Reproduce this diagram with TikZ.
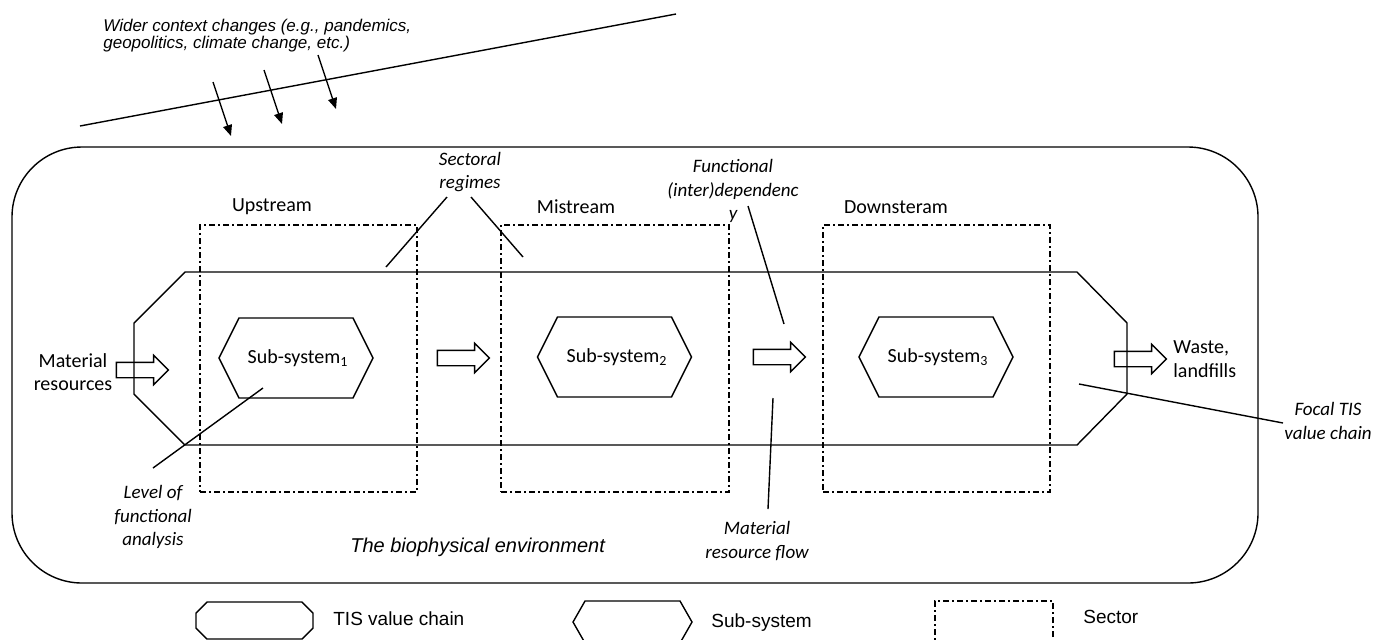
\documentclass[tikz,border=0pt]{standalone}
\usepackage{fontspec}
\setmainfont{Carlito}
\newfontfamily\arialfont{Liberation Sans}
\usetikzlibrary{positioning,shapes.arrows,arrows.meta}

\begin{document}
\begin{tikzpicture}[x=0.5pt,y=-0.5pt,>={Stealth[length=5.5pt,width=4.5pt,inset=0pt]},line width=0.7pt,
  sector/.style={draw, dash pattern=on 3pt off 1.6pt on 0.8pt off 1.6pt, line width=0.6pt, inner sep=0pt},
  flowarrow/.style={single arrow, draw, single arrow head extend=3.5pt, inner sep=3.5pt, minimum height=26pt},
  lbl/.style={font=\fontsize{10}{11.8}\selectfont, align=center},
  remark/.style={font=\fontsize{9.5}{11.8}\selectfont\itshape, align=center},
  legendtext/.style={anchor=west, font=\arialfont\fontsize{9.5}{11}\selectfont}]
\useasboundingbox (0,0) rectangle (1374,639);
\clip (0,0) rectangle (1374,639);

% Wider context
\node (ctx) [anchor=west, align=left, font=\arialfont\itshape\fontsize{8.5}{8.5}\selectfont] at (96,36)
    {Wider context changes (e.g., pandemics,\\geopolitics, climate change, etc.)};
\coordinate (ctxL) at (80,126);
\coordinate (ctxR) at (676,14);
\draw (ctxL) -- (ctxR);
\foreach \x/\y [count=\i] in {213/82, 264/70, 318/55}
  {\coordinate (ctx\i) at (\x,\y); \draw [->] (ctx\i) -- ++(18,54);}

% The biophysical environment
\node (env) [draw, rounded corners=35pt, minimum width=623pt, minimum height=218pt, inner sep=0pt] at (635,365) {};
\node (bio) [anchor=west, font=\arialfont\itshape\fontsize{10}{12}\selectfont] at (343,547) {The biophysical environment};

% Sectors
\node (upbox) [sector, minimum width=108.5pt, minimum height=133.5pt] at (308.5,358.5) {};
\node (midbox) [sector, minimum width=114pt, minimum height=133.5pt] at (615,358.5) {};
\node (downbox) [sector, minimum width=113.5pt, minimum height=133.5pt] at (936.5,358.5) {};
\node (up) [lbl] at (272,207) {Upstream};
\node (mid) [lbl] at (576,207) {Mistream};
\node (down) [lbl] at (896,207) {Downsteram};

% Focal TIS value chain
\draw (185,272) -- (1077,272) -- (1127,323) -- (1127,394) -- (1077,445) -- (185,445) -- (134,394) -- (134,323) -- cycle;

% Sub-systems
\node (ss1) [lbl] at (298,358) {Sub-system\textsubscript{1}};
\draw [shift={(296,358)}] (-77,0) -- (-57,-40) -- (57,-40) -- (77,0) -- (57,40) -- (-57,40) -- cycle;
\node (ss2) [lbl] at (617,357) {Sub-system\textsubscript{2}};
\draw [shift={(614.5,357)}] (-77,0) -- (-57,-40) -- (57,-40) -- (77,0) -- (57,40) -- (-57,40) -- cycle;
\node (ss3) [lbl] at (938,357) {Sub-system\textsubscript{3}};
\draw [shift={(936,357)}] (-77,0) -- (-57,-40) -- (57,-40) -- (77,0) -- (57,40) -- (-57,40) -- cycle;

% Material flows
\node (mat) [lbl] at (73,372) {Material\\resources};
\node (matin) [flowarrow] at (138.5,370) {};
\node (f12) [flowarrow] at (459.5,358) {};
\node (f23) [flowarrow] at (775.5,357) {};
\node (out) [flowarrow] at (1136.5,359) {};
\node (waste) [lbl, anchor=west, align=left] at (1166,359) {Waste,\\landfills};

% Labels with leader lines
\node (regimes) [remark] at (470,172) {Sectoral\\regimes};
\coordinate (regA) at (386,267);
\coordinate (regB) at (523,257);
\draw (regimes) ++(-23,25) -- (regA);
\draw (regimes) ++(1,25) -- (regB);

\node (fdep) [remark] at (733,191) {Functional\\(inter)dependenc\\y};
\coordinate (fdA) at (784,324);
\draw (fdep) ++(15,15) -- (fdA);

\node (mflow) [remark] at (757,541) {Material\\resource flow};
\coordinate (mfA) at (773,398);
\draw (mflow) ++(11,-32) -- (mfA);

\node (level) [remark] at (153,517) {Level of\\functional\\analysis};
\coordinate (lvA) at (263,388);
\draw (level) ++(0,-49) -- (lvA);

\node (focal) [remark] at (1328,421) {Focal TIS\\value chain};
\coordinate (fcA) at (1079,384);
\draw (focal) ++(-45,2) -- (fcA);

% Legend
\draw (207,602) -- (302,602) -- (313,613) -- (313,628) -- (302,639) -- (207,639) -- (196,628) -- (196,613) -- cycle;
\node (lgchain) [legendtext] at (326,619) {TIS value chain};
\draw (573,622) -- (585,601) -- (680,601) -- (692,622) -- (680,643) -- (585,643) -- cycle;
\node (lgsub) [legendtext] at (704,623) {Sub-system};
\node (lgbox) [sector, minimum width=59pt, minimum height=22pt] at (994,623) {};
\node (lgsector) [legendtext] at (1076,617) {Sector};
\end{tikzpicture}
\end{document}
